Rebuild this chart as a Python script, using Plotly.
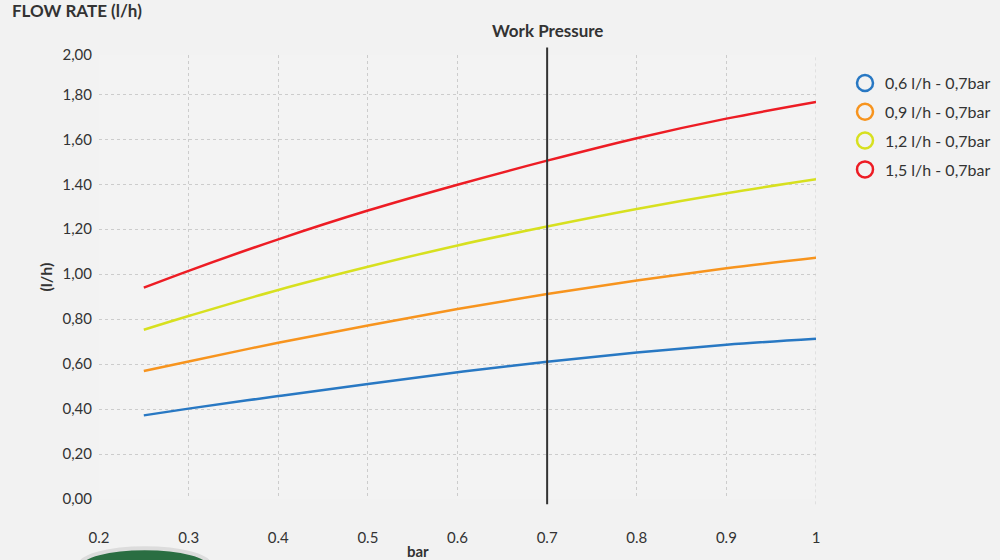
import plotly.graph_objects as go

pressure = [0.25, 0.3, 0.4, 0.5, 0.6, 0.7, 0.8, 0.9, 1.0]
series_names = ["0,6 l/h - 0,7bar", "0,9 l/h - 0,7bar", "1,2 l/h - 0,7bar", "1,5 l/h - 0,7bar"]
flow_06 = [0.372, 0.402, 0.458, 0.512, 0.564, 0.611, 0.652, 0.686, 0.713]
flow_09 = [0.569, 0.612, 0.695, 0.772, 0.845, 0.912, 0.972, 1.026, 1.073]
flow_12 = [0.753, 0.814, 0.930, 1.033, 1.128, 1.212, 1.290, 1.360, 1.422]
flow_15 = [0.940, 1.015, 1.155, 1.283, 1.398, 1.505, 1.605, 1.692, 1.766]
colors = ["#2878c3", "#f7941e", "#d7e01f", "#ed1c24"]

y_tickvals = [0, 0.2, 0.4, 0.6, 0.8, 1.0, 1.2, 1.4, 1.6, 1.8, 1.975]
y_ticktext = ["0,00", "0,20", "0,40", "0,60", "0,80", "1,00", "1,20", "1.40", "1,60", "1,80", "2,00"]
x_tickvals = [0.2, 0.3, 0.4, 0.5, 0.6, 0.7, 0.8, 0.9, 1.0]
x_ticktext = ["0.2", "0.3", "0.4", "0.5", "0.6", "0.7", "0.8", "0.9", "1"]
work_pressure = 0.7

FONT = "Lato, 'Open Sans', sans-serif"
TXT = "#333333"

fig = go.Figure()
for name, vals, c in zip(series_names, [flow_06, flow_09, flow_12, flow_15], colors):
    fig.add_trace(go.Scatter(x=pressure, y=vals, mode="lines", line=dict(color=c, width=2.5, shape="spline", smoothing=1.0),
                             name=name, legendgroup=name, showlegend=False, hoverinfo="skip"))
    fig.add_trace(go.Scatter(x=[None], y=[None], mode="markers", name=name, legendgroup=name,
                             marker=dict(symbol="circle-open", size=17, color=c, line=dict(width=2.5, color=c))))

# Work pressure line
fig.add_shape(type="line", xref="x", yref="paper", x0=work_pressure, x1=work_pressure, y0=-0.012, y1=1.017,
              line=dict(color="#333333", width=2))
fig.add_annotation(x=work_pressure, xref="x", yref="paper", y=1.026, yanchor="bottom", text="<b>Work Pressure</b>",
                   showarrow=False, font=dict(family=FONT, size=17, color=TXT))
# grid line at right edge
fig.add_shape(type="line", xref="x", yref="paper", x0=1.0, x1=1.0, y0=-0.012, y1=1,
              line=dict(color="#cccccc", width=1, dash="dot"), layer="below")

fig.add_annotation(xref="paper", yref="paper", x=-0.124, y=1.073, xanchor="left", yanchor="bottom",
                   text="<b>FLOW RATE (l/h)</b>", showarrow=False, font=dict(family=FONT, size=17, color=TXT))
fig.add_annotation(xref="paper", yref="paper", x=-0.092, y=0.5, textangle=-90, text="<b>(l/h)</b>",
                   showarrow=False, font=dict(family=FONT, size=16, color=TXT))
fig.add_annotation(xref="paper", yref="paper", x=0.445, y=-0.118, yanchor="middle", text="<b>bar</b>",
                   showarrow=False, font=dict(family=FONT, size=15, color=TXT))

# decorative product image hint (bottom-left)
fig.add_shape(type="circle", xref="paper", yref="paper", x0=-0.027, x1=0.155, y0=-0.19, y1=-0.111,
              fillcolor="#2a6e42", line=dict(color="#dcdcdc", width=4), layer="below")

fig.update_layout(
    width=1000, height=560,
    margin=dict(l=99, r=184, t=55, b=61, autoexpand=False),
    paper_bgcolor="#f2f2f2", plot_bgcolor="#f3f3f3",
    font=dict(family=FONT, size=15, color=TXT),
    showlegend=True,
    legend=dict(xref="container", yref="container", x=0.845, y=0.882, xanchor="left", yanchor="top",
                bgcolor="rgba(0,0,0,0)", font=dict(family=FONT, size=16, color=TXT),
                itemsizing="trace", tracegroupgap=5),
    xaxis=dict(range=[0.2, 1.0], tickvals=x_tickvals, ticktext=x_ticktext, showgrid=True,
               gridcolor="#cccccc", griddash="dot", gridwidth=1, zeroline=False, showline=False,
               ticks="", ticklabelstandoff=28, tickfont=dict(size=15, color=TXT)),
    yaxis=dict(range=[0, 1.975], tickvals=y_tickvals, ticktext=y_ticktext, showgrid=True,
               gridcolor="#cccccc", griddash="dot", gridwidth=1, zeroline=False, showline=False,
               ticks="", ticklabelstandoff=6, tickfont=dict(size=15, color=TXT)),
)

fig.write_html("out.html", config={"displayModeBar": False},
               post_script="document.body.style.margin='0';document.body.style.overflow='hidden';")
